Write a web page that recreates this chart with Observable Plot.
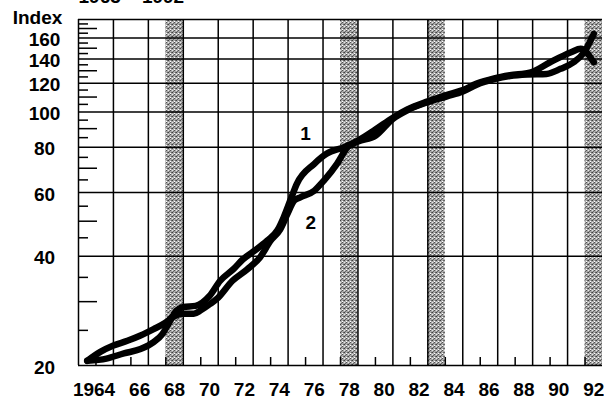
<!DOCTYPE html>
<html>
<head>
<meta charset="utf-8">
<script src="https://cdn.jsdelivr.net/npm/d3@7"></script>
<script src="https://cdn.jsdelivr.net/npm/@observablehq/plot@0.6"></script>
<style>
  body { margin: 0; background: #fff; }
  #chart svg { display: block; }
</style>
</head>
<body>
<div id="chart"></div>
<script>
// Heading and axis title
const title = "1963 – 1992";
const yAxisTitle = "Index";

// Series 1 (time in fractional years, index value)
const years1 = [1963.5, 1964.6, 1965.6, 1966.55, 1967.3, 1967.8, 1968.1, 1968.6, 1969.0, 1969.7,
  1970.5, 1971.1, 1971.9, 1972.4, 1973.0, 1973.8, 1974.4, 1974.75, 1975.15, 1975.5,
  1976.5, 1977.2, 1978.2, 1979.0, 1980.0, 1981.0, 1981.8, 1983.0, 1984.1, 1985.0,
  1985.8, 1986.8, 1987.7, 1988.9, 1990.0, 1991.2, 1991.75, 1992.5];
const index1 = [20.6, 20.9, 21.6, 22.2, 23.2, 24.4, 25.8, 28.3, 29.0, 29.2,
  31.1, 34.2, 37.0, 39.2, 41.2, 44.2, 47.3, 51.3, 57.5, 63.4,
  72.0, 76.7, 80.0, 83.4, 89.5, 96.5, 101.5, 107.0, 111.5, 115.0,
  119.8, 123.8, 126.3, 128.7, 137.2, 146.2, 149.4, 137.2];

// Series 2
const years2 = [1963.5, 1964.25, 1965.0, 1965.8, 1966.55, 1967.3, 1967.9, 1968.45, 1969.0, 1969.6,
  1970.0, 1970.55, 1971.0, 1971.8, 1972.65, 1973.4, 1974.0, 1974.55, 1974.95, 1975.35,
  1975.7, 1976.5, 1977.05, 1977.8, 1978.4, 1979.0, 1980.0, 1981.0, 1981.8, 1983.0,
  1984.1, 1985.0, 1985.8, 1986.8, 1987.7, 1988.7, 1989.8, 1990.6, 1991.35, 1991.95, 1992.5];
const index2 = [20.6, 21.8, 22.7, 23.4, 24.2, 25.2, 26.1, 27.3, 27.8, 27.8,
  28.4, 29.6, 30.8, 34.2, 36.8, 39.8, 44.2, 47.5, 52.2, 57.0,
  58.2, 60.7, 64.7, 72.0, 80.0, 82.9, 86.0, 95.8, 101.0, 106.5,
  110.5, 114.0, 119.0, 123.2, 125.8, 127.0, 127.4, 131.6, 137.2, 146.2, 164.3];

// Series labels placed beside the curves
const seriesNames = ["1", "2"];
const seriesLabelYears = [1976.0, 1976.3];
const seriesLabelValues = [87, 49.5];

// Shaded years
const shadedYears = [1968, 1978, 1983, 1992];

// Axis values
const yTickValues = [20, 40, 60, 80, 100, 120, 140, 160];
const yGridValues = [40, 60, 80, 100, 120, 140, 160];
const yLongMinor = [30, 50, 70, 90, 110, 130, 150, 170];
const yShortMinor = [25, 35, 45, 55, 65, 75, 85, 95, 105, 115, 125, 135, 145, 155, 165, 175];
const xLabelYears = [1964, 1966, 1968, 1970, 1972, 1974, 1976, 1978, 1980, 1982, 1984, 1986, 1988, 1990, 1992];
const xTickLabels = ["1964", "66", "68", "70", "72", "74", "76", "78", "80", "82", "84", "86", "88", "90", "92"];
const xGridYears = [1965, 1967, 1969, 1971, 1973, 1975, 1977, 1979, 1981, 1983, 1985, 1987, 1989, 1991];
const xMinorYears = [1964, 1966, 1968, 1970, 1972, 1974, 1976, 1978, 1980, 1982, 1984, 1986, 1988, 1990, 1992];
const xDomain = [1963, 1993];
const yDomain = [20, 180];

const series1 = years1.map((t, i) => ({t, v: index1[i]}));
const series2 = years2.map((t, i) => ({t, v: index2[i]}));
const seriesLabels = seriesNames.map((name, i) => ({name, t: seriesLabelYears[i], v: seriesLabelValues[i]}));
const xLabels = xLabelYears.map((year, i) => ({year, label: xTickLabels[i]}));

const W = 604, H = 400;
const mL = 78, mR = 2, mT = 19, mB = 35;
const frameW = W - mL - mR, frameH = H - mT - mB;
const font = "'Liberation Sans', Arial, Helvetica, sans-serif";
const grid = {stroke: "#000", strokeWidth: 1.5};
const label = {fontSize: 19, fontWeight: "bold", fill: "#000"};
const curve = {x: "t", y: "v", stroke: "#000", strokeWidth: 6.5, curve: "monotone-x", strokeLinejoin: "round", strokeLinecap: "round"};

const svg = Plot.plot({
  width: W,
  height: H,
  marginLeft: mL,
  marginRight: mR,
  marginTop: mT,
  marginBottom: mB,
  style: {fontFamily: font, background: "#fff", overflow: "hidden"},
  x: {domain: xDomain, axis: null},
  y: {type: "log", domain: yDomain, axis: null},
  marks: [
    // shaded year bands
    Plot.rect(shadedYears, {x1: d => d, x2: d => d + 1, fill: "url(#stipple)"}),
    // grid
    Plot.ruleX(xGridYears, {x: d => d, ...grid}),
    Plot.ruleY(yGridValues, {y: d => d, ...grid}),
    // frame: bottom, top, left
    Plot.ruleY([yDomain[0], yDomain[1]], {y: d => d, ...grid}),
    Plot.ruleX([xDomain[0]], {x: d => d, ...grid}),
    // minor ticks on the value axis
    Plot.ruleY(yLongMinor, {y: d => d, insetRight: frameW - 19, ...grid}),
    Plot.ruleY(yShortMinor, {y: d => d, insetRight: frameW - 10, ...grid}),
    // minor ticks on the time axis
    Plot.ruleX(xMinorYears, {x: d => d, insetTop: frameH - 8, ...grid}),
    // the two index series
    Plot.line(series1, curve),
    Plot.line(series2, curve),
    // series labels
    Plot.text(seriesLabels, {x: "t", y: "v", text: "name", ...label}),
    // value axis labels
    Plot.text(yTickValues, {y: d => d, text: d => String(d), frameAnchor: "left", dx: -34, dy: 2, textAnchor: "middle", lineAnchor: "middle", ...label}),
    // time axis labels ("19" of the first label hangs to the left)
    Plot.text(xLabels.slice(0, 1), {x: d => d.year + 0.5, text: "label", frameAnchor: "bottom", dy: 24, dx: 10.5, textAnchor: "end", lineAnchor: "middle", ...label}),
    Plot.text(xLabels.slice(1), {x: d => d.year + 0.5, text: "label", frameAnchor: "bottom", dy: 24, textAnchor: "middle", lineAnchor: "middle", ...label}),
    // axis title, and the heading whose top runs off the upper edge
    Plot.text([yAxisTitle], {frameAnchor: "top-left", dx: -41, dy: -1.5, textAnchor: "middle", lineAnchor: "middle", ...label}),
    Plot.text([title], {frameAnchor: "top-left", dx: 0, dy: -23, textAnchor: "start", lineAnchor: "middle", ...label})
  ]
});

// halftone stipple used by the shaded bands
const defs = document.createElementNS("http://www.w3.org/2000/svg", "defs");
defs.innerHTML = `<pattern id="stipple" width="4" height="4" patternUnits="userSpaceOnUse">
  <rect width="4" height="4" fill="#a8a8a8"/>
  <rect x="0" y="0" width="1" height="1" fill="#404040"/>
  <rect x="2" y="2" width="1" height="1" fill="#505050"/>
  <rect x="3" y="0" width="1" height="1" fill="#686868"/>
  <rect x="1" y="3" width="1" height="1" fill="#686868"/>
  <rect x="2" y="1" width="1" height="1" fill="#ffffff"/>
  <rect x="0" y="2" width="1" height="1" fill="#e8e8e8"/>
</pattern>`;
svg.insertBefore(defs, svg.firstChild);

document.getElementById("chart").appendChild(svg);
</script>
</body>
</html>
